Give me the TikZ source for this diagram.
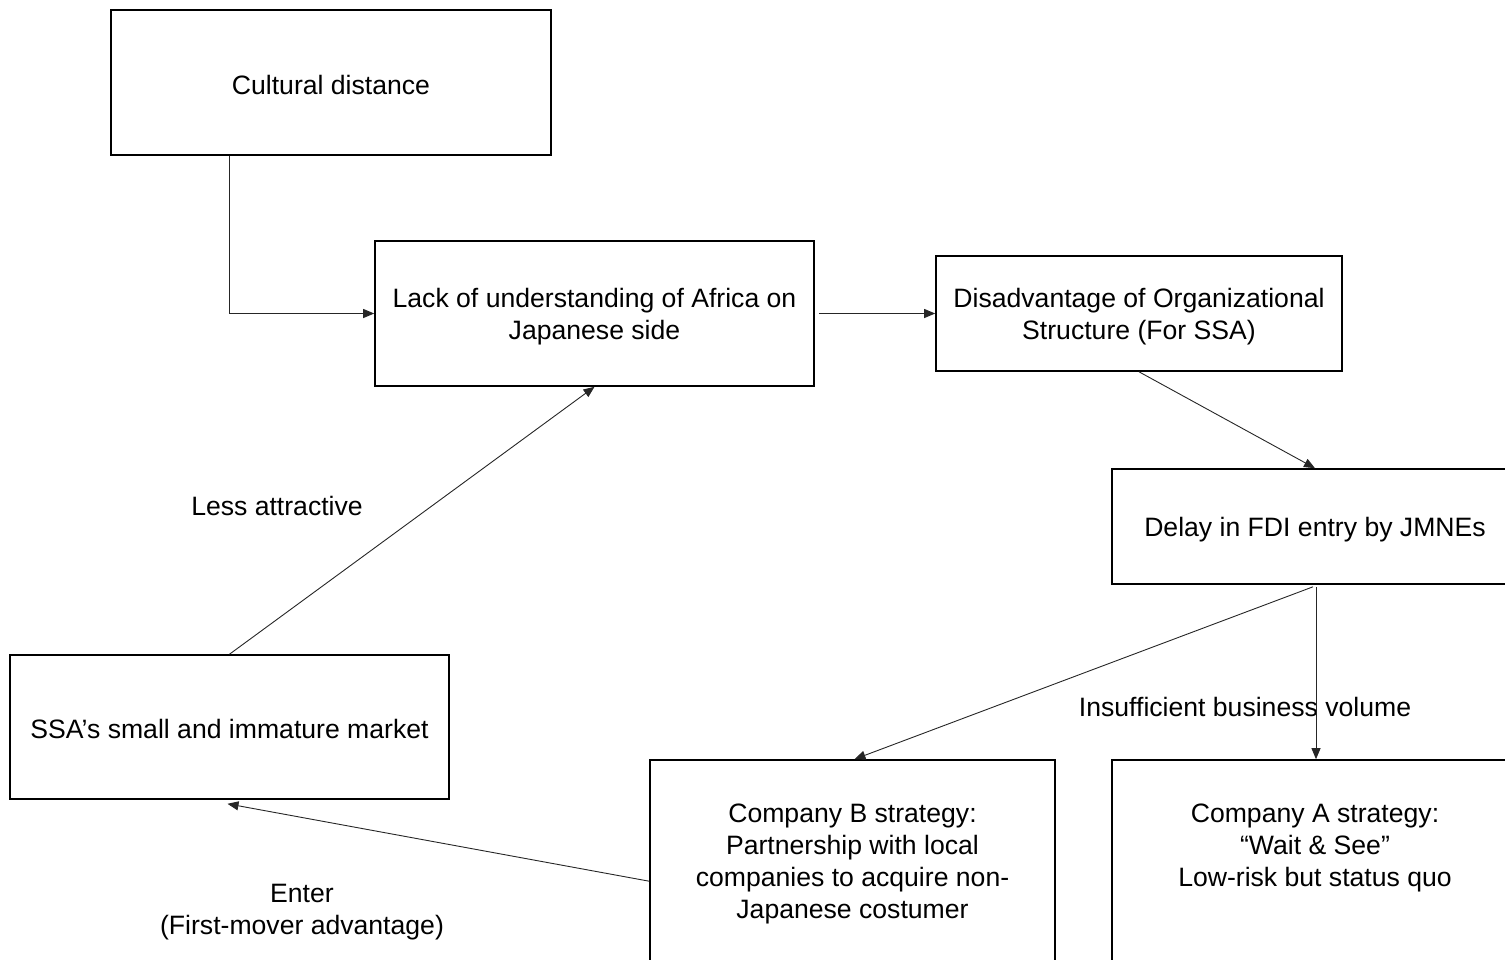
\documentclass[tikz,border=0pt]{standalone}
\usepackage{fontspec}
\setmainfont{Liberation Sans}
\usetikzlibrary{arrows.meta,calc}
\begin{document}
\begin{tikzpicture}[x=1pt,y=-1pt,
  box/.style={draw=black,line width=1.6pt,inner sep=0pt,align=center,font=\fontsize{26.6}{32}\selectfont},
  txt/.style={inner sep=0pt,align=center,font=\fontsize{26.6}{32}\selectfont},
  conn/.style={draw=black!85,line width=0.9pt,-{Triangle[length=11pt,width=9pt]}}]
\useasboundingbox (0,0) rectangle (1505,959);
\node[box,minimum width=440,minimum height=145] (cult) at (331,82.5) {};
\node[txt] (tC) at (331,84.5) {Cultural distance};
\node[box,minimum width=439,minimum height=145] (lack) at (594.5,313.5) {};
\node[txt] (tL) at (594.5,317) {Lack of understanding of Africa on\\Japanese side};
\node[box,minimum width=406,minimum height=115] (disadv) at (1139,313.5) {};
\node[txt] (tD) at (1139,317) {Disadvantage of Organizational\\Structure (For SSA)};
\node[box,minimum width=406,minimum height=115] (delay) at (1315,526.5) {};
\node[txt] (tE) at (1315,529.5) {Delay in FDI entry by JMNEs};
\node[box,minimum width=439,minimum height=144] (ssa) at (229.5,727) {};
\node[txt] (tS) at (229.5,728.5) {SSA’s small and immature market};
\node[box,minimum width=405,minimum height=204] (compB) at (852.5,862) {};
\node[box,minimum width=406,minimum height=204] (compA) at (1315,862) {};
\node[txt,anchor=north] (tB) at (852.5,804) {Company B strategy:\\Partnership with local\\companies to acquire non-\\Japanese costumer};
\node[txt,anchor=north] (tA) at (1315,804) {Company A strategy:\\“Wait \& See”\\Low-risk but status quo};
\node[txt] (l1) at (277,506) {Less attractive};
\node[txt] (l2) at (1245,707) {Insufficient business volume};
\node[txt] (l3) at (302,912) {Enter\\(First-mover advantage)};
\draw[conn] ($(cult.south west)+(119,0)$) |- (lack.west);
\draw[conn] ($(lack.east)+(4,0)$) -- (disadv.west);
\draw[conn] (disadv.south) -- (delay.north);
\draw[conn] (ssa.north) -- (lack.south);
\draw[conn] ($(delay.south)+(-2,2)$) -- ($(compB.north)+(2,0)$);
\draw[conn] ($(delay.south)+(1,2)$) -- ($(compA.north)+(1,0)$);
\draw[conn] ($(compB.north west)+(0,122)$) -- ($(ssa.south)+(-2,4)$);
\end{tikzpicture}
\end{document}
